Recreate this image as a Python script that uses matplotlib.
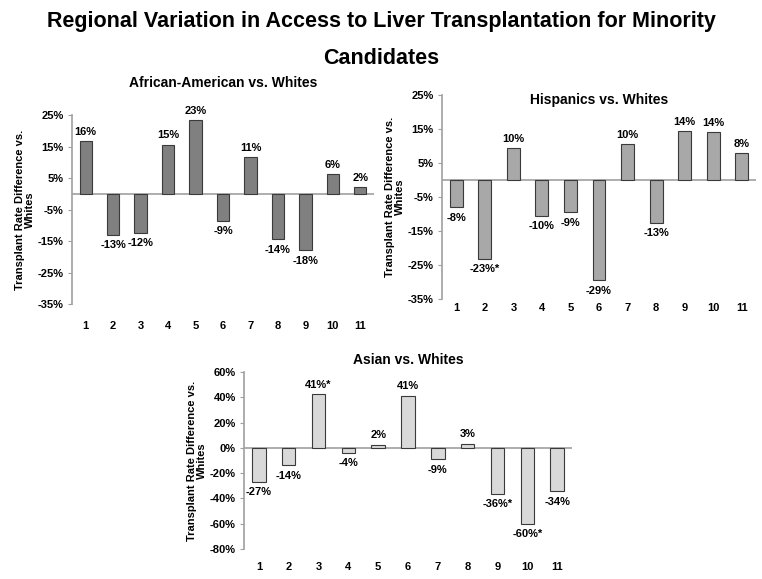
import matplotlib
matplotlib.use("Agg")
import matplotlib.pyplot as plt
from matplotlib import font_manager

plt.rcParams["font.family"] = ["Liberation Sans", "DejaVu Sans"]
plt.rcParams["font.weight"] = "bold"

# regions 1..11
regions = list(range(1, 12))
region_labels = [str(r) for r in regions]

# bar heights and the printed labels
aa_values = [16.8, -13.0, -12.4, 15.6, 23.4, -8.6, 11.7, -14.4, -18.0, 6.3, 2.2]
aa_labels = ["16%", "-13%", "-12%", "15%", "23%", "-9%", "11%", "-14%", "-18%", "6%", "2%"]

hisp_values = [-8.0, -23.1, 9.5, -10.5, -9.4, -29.4, 10.5, -12.6, 14.4, 14.1, 7.9]
hisp_labels = ["-8%", "-23%*", "10%", "-10%", "-9%", "-29%", "10%", "-13%", "14%", "14%", "8%"]

asian_values = [-26.8, -13.9, 42.4, -3.7, 2.6, 41.3, -9.2, 3.4, -36.3, -60.0, -34.2]
asian_labels = ["-27%", "-14%", "41%*", "-4%", "2%", "41%", "-9%", "3%", "-36%*", "-60%*", "-34%"]

aa_ticks = [25, 15, 5, -5, -15, -25, -35]
hisp_ticks = [25, 15, 5, -5, -15, -25, -35]
asian_ticks = [60, 40, 20, 0, -20, -40, -60, -80]

# pick a narrow font for the main title if it exists
names = {f.name for f in font_manager.fontManager.ttflist}
title_font = "Liberation Sans Narrow" if "Liberation Sans Narrow" in names else "Liberation Sans"

fig = plt.figure(figsize=(7.62, 5.79), dpi=100)

fig.text(0.5, 1 - 22 / 579, "Regional Variation in Access to Liver Transplantation for Minority",
         ha="center", va="center", fontsize=15.5, fontweight="bold", family=title_font)
fig.text(0.5, 1 - 58 / 579, "Candidates",
         ha="center", va="center", fontsize=15.5, fontweight="bold", family=title_font)


def draw_panel(rect, values, labels, ticks, color, title, title_y, xpad, lab_off):
    ax = fig.add_axes(rect)
    ax.bar(regions, values, width=0.45, color=color, edgecolor="#3a3a3a", linewidth=0.8, zorder=2)
    ax.axhline(0, color="#a0a0a0", linewidth=1.2, zorder=1)
    ax.set_xlim(0.5, 11.5)
    ax.set_ylim(min(ticks), max(ticks))
    ax.set_yticks(ticks)
    ax.set_yticklabels([f"{t}%" for t in ticks])
    ax.set_xticks(regions)
    ax.set_xticklabels(region_labels)
    for s in ["top", "right", "bottom"]:
        ax.spines[s].set_visible(False)
    ax.spines["left"].set_color("#a0a0a0")
    ax.spines["left"].set_linewidth(1.2)
    ax.tick_params(axis="y", length=3, color="#a0a0a0", labelsize=8, pad=3)
    ax.tick_params(axis="x", length=0, labelsize=8, pad=xpad)
    for lab in ax.get_xticklabels() + ax.get_yticklabels():
        lab.set_fontweight("bold")
    ax.set_ylabel("Transplant Rate Difference vs.\nWhites", fontsize=8, fontweight="bold",
                  labelpad=2, linespacing=0.95)
    for x, v, t in zip(regions, values, labels):
        if v >= 0:
            ax.annotate(t, (x, v), xytext=(0, 3), textcoords="offset points",
                        ha="center", va="bottom", fontsize=8, fontweight="bold")
        else:
            ax.annotate(t, (x, v), xytext=(0, -lab_off), textcoords="offset points",
                        ha="center", va="top", fontsize=8, fontweight="bold")
    ax.text(0.5, title_y, title, transform=ax.transAxes, ha="center", va="center",
            fontsize=10, fontweight="bold")
    return ax


W, H = 762, 579

def rect(left, right, top, bottom):
    return [left / W, 1 - bottom / H, (right - left) / W, (bottom - top) / H]

draw_panel(rect(72, 374, 115, 304), aa_values, aa_labels, aa_ticks, "#808080",
           "African-American vs. Whites", 1 + 32 / 189, 12, 4)
draw_panel(rect(442, 756, 95, 299), hisp_values, hisp_labels, hisp_ticks, "#a8a8a8",
           "Hispanics vs. Whites", 1 - 5 / 204, 3, 4)
draw_panel(rect(244, 572, 372, 549), asian_values, asian_labels, asian_ticks, "#d9d9d9",
           "Asian vs. Whites", 1 + 12 / 177, 9, 4)

fig.savefig("out.png", dpi=100)
